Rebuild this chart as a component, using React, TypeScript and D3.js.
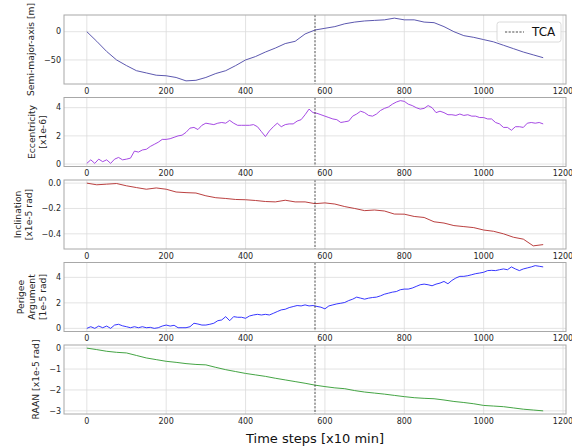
import React from 'react';
import * as d3 from 'd3';

// ---- data ----
const fineStep = 10;   // time-step spacing of the noisy series
const coarseStep = 25; // time-step spacing of the smooth series
const tcaStep = 575;

const semiMajorAxis = [
  0, -17, -35, -50, -60, -69, -73, -77, -78, -81,
  -87, -86, -81, -74, -69, -60, -50, -44, -36, -29,
  -21, -17, -4, 3, 6, 9, 14, 17, 19, 20,
  21, 24, 21, 21, 17, 16, 9, 0, -7, -10,
  -14, -18, -24, -30, -36, -41, -46,
];

const eccentricity = [
  0.05, 0.3, 0.05, 0.35, 0.17, 0.3, 0.05, 0.35, 0.47, 0.3,
  0.35, 0.42, 0.92, 0.85, 1.0, 1.05, 1.25, 1.4, 1.55, 1.75,
  1.75, 1.8, 1.9, 2.0, 2.05, 2.25, 2.55, 2.6, 2.45, 2.75,
  2.9, 2.85, 2.8, 2.9, 2.95, 2.9, 3.1, 2.9, 2.75, 2.75,
  2.75, 2.75, 2.8, 2.65, 2.3, 1.95, 2.35, 2.65, 2.9, 2.65,
  2.8, 2.85, 2.85, 3.05, 3.15, 3.5, 3.9, 3.65, 3.6, 3.5,
  3.4, 3.3, 3.2, 3.15, 2.95, 3.0, 3.05, 3.4, 3.55, 3.75,
  3.65, 3.45, 3.4, 3.55, 3.8, 3.95, 4.05, 4.25, 4.4, 4.5,
  4.45, 4.25, 4.15, 4.0, 3.9, 3.95, 4.15, 4.0, 3.65, 3.75,
  3.65, 3.5, 3.5, 3.45, 3.55, 3.45, 3.5, 3.4, 3.4, 3.3,
  3.3, 3.2, 3.2, 2.95, 2.85, 2.6, 2.6, 2.4, 2.65, 2.65,
  2.6, 2.9, 2.95, 2.9, 2.95, 2.85,
];

const inclination = [
  0, -0.013, -0.008, -0.003, -0.021, -0.035, -0.048, -0.038, -0.048, -0.07,
  -0.075, -0.078, -0.1, -0.115, -0.121, -0.129, -0.131, -0.137, -0.145, -0.148,
  -0.135, -0.148, -0.148, -0.162, -0.156, -0.165, -0.185, -0.2, -0.217, -0.212,
  -0.22, -0.244, -0.245, -0.263, -0.271, -0.305, -0.315, -0.335, -0.343, -0.351,
  -0.37, -0.38, -0.4, -0.427, -0.442, -0.495, -0.485,
];

const perigeeArgument = [
  0.0, 0.13, 0.0, 0.18, 0.05, 0.18, 0.0, 0.26, 0.32, 0.2,
  0.13, 0.05, 0.13, 0.05, 0.13, 0.05, 0.08, 0.0, 0.05, 0.18,
  0.26, 0.18, 0.24, 0.05, 0.05, 0.05, 0.13, 0.4, 0.34, 0.26,
  0.26, 0.32, 0.4, 0.6, 0.66, 0.92, 0.6, 0.92, 0.87, 0.87,
  0.79, 0.97, 1.05, 1.1, 1.05, 1.1, 1.05, 1.18, 1.32, 1.45,
  1.5, 1.63, 1.71, 1.79, 1.76, 1.84, 1.76, 1.79, 1.72, 1.66,
  1.53, 1.76, 1.84, 1.92, 1.97, 2.03, 2.18, 2.29, 2.45, 2.37,
  2.29, 2.37, 2.42, 2.45, 2.55, 2.68, 2.76, 2.84, 2.89, 3.03,
  3.08, 3.08, 3.16, 3.29, 3.42, 3.47, 3.42, 3.34, 3.47, 3.55,
  3.68, 3.5, 3.76, 3.95, 4.08, 4.08, 4.13, 4.21, 4.29, 4.34,
  4.4, 4.53, 4.55, 4.53, 4.6, 4.66, 4.6, 4.82, 4.66, 4.53,
  4.66, 4.74, 4.82, 4.92, 4.87, 4.82,
];

const raan = [
  0, -0.07, -0.15, -0.2, -0.23, -0.35, -0.47, -0.55, -0.63, -0.68,
  -0.74, -0.78, -0.8, -0.92, -1.03, -1.12, -1.21, -1.28, -1.35, -1.44,
  -1.52, -1.6, -1.68, -1.77, -1.84, -1.9, -1.94, -2.03, -2.1, -2.15,
  -2.2, -2.26, -2.32, -2.37, -2.4, -2.42, -2.48, -2.55, -2.6, -2.66,
  -2.74, -2.77, -2.8, -2.86, -2.92, -2.96, -3.0,
];

const xTicks = [0, 200, 400, 600, 800, 1000, 1200];
const semiTicks = [0, -50];
const eccTicks = [0, 2, 4];
const incTicks = [0, -0.2, -0.4];
const perTicks = [0, 2, 4];
const raanTicks = [0, -1, -2, -3];

const xLabel = 'Time steps [x10 min]';
const legendLabel = 'TCA';

// ---- layout / style ----
const W = 572;
const H = 447;
const left = 64;
const right = 566;
const firstTop = 15;
const panelH = 69;
const panelGap = 82.5;
const tickFont = 8;
const labelFont = 9.2;
const FONT = 'DejaVu Sans, sans-serif';
const TEXT = '#262626';

const minus = (s: string) => s.replace('-', '\u2212');

const charW: Record<string, number> = {
  '\u2212': 0.838, '.': 0.318,
};
const textWidth = (s: string, fs: number) =>
  s.split('').reduce((a, c) => a + (charW[c] ?? 0.636), 0) * fs;

type Panel = {
  values: number[];
  step: number;
  ticks: number[];
  fmt: (v: number) => string;
  label: string[];
  color: string;
};

const panels: Panel[] = [
  { values: semiMajorAxis, step: coarseStep, ticks: semiTicks, fmt: (v) => minus(d3.format('d')(v)), label: ['Semi-major-axis [m]'], color: '#4a45a6' },
  { values: eccentricity, step: fineStep, ticks: eccTicks, fmt: (v) => minus(d3.format('d')(v)), label: ['Eccentricity', '[x1e-6]'], color: '#9b35e0' },
  { values: inclination, step: coarseStep, ticks: incTicks, fmt: (v) => minus(d3.format('.1f')(v)), label: ['Inclination', '[x1e-5 rad]'], color: '#b22a2a' },
  { values: perigeeArgument, step: fineStep, ticks: perTicks, fmt: (v) => minus(d3.format('d')(v)), label: ['Perigee', 'Argument', '[1e-5 rad]'], color: '#2020ff' },
  { values: raan, step: coarseStep, ticks: raanTicks, fmt: (v) => minus(d3.format('d')(v)), label: ['RAAN [x1e-5 rad]'], color: '#2f9a2f' },
];

const xMax = d3.max(panels, (p) => (p.values.length - 1) * p.step) as number;
const xPad = xMax * 0.05;
const x = d3.scaleLinear().domain([-xPad, xMax + xPad]).range([left, right]);

function PanelView({ p, idx }: { p: Panel; idx: number }) {
  const top = firstTop + idx * panelGap;
  const bottom = top + panelH;
  const [lo, hi] = d3.extent(p.values) as [number, number];
  const pad = (hi - lo) * 0.05;
  const y = d3.scaleLinear().domain([lo - pad, hi + pad]).range([bottom, top]);
  const pts = p.values.map((v, i) => [i * p.step, v] as [number, number]);
  const line = d3.line<[number, number]>().x((d) => x(d[0])).y((d) => y(d[1]));
  const tickLabels = p.ticks.map(p.fmt);
  const maxTW = d3.max(tickLabels, (t) => textWidth(t, tickFont)) as number;
  const lastX = left - 3 - maxTW - 13;
  const cy = (top + bottom) / 2;
  const n = p.label.length;
  return (
    <g>
      <rect x={left} y={top} width={right - left} height={panelH} fill="#fff" />
      {xTicks.map((t) => (
        <line key={'gx' + t} x1={x(t)} x2={x(t)} y1={top} y2={bottom} stroke="#dcdcdc" strokeWidth={0.8} />
      ))}
      {p.ticks.map((t) => (
        <line key={'gy' + t} x1={left} x2={right} y1={y(t)} y2={y(t)} stroke="#dcdcdc" strokeWidth={0.8} />
      ))}
      <path d={line(pts) || ''} fill="none" stroke={p.color} strokeWidth={0.9} strokeLinejoin="round" />
      <line x1={x(tcaStep)} x2={x(tcaStep)} y1={top} y2={bottom} stroke="#222" strokeWidth={0.8} strokeDasharray="2.2,1.4" />
      <rect x={left} y={top} width={right - left} height={panelH} fill="none" stroke="#a8a8a8" strokeWidth={1} />
      {xTicks.map((t) => (
        <text key={'tx' + t} x={x(t)} y={bottom + 9.5} textAnchor="middle" fontSize={tickFont} fill={TEXT} fontFamily={FONT}>
          {String(t)}
        </text>
      ))}
      {p.ticks.map((t, i) => (
        <text key={'ty' + t} x={left - 3} y={y(t)} dy="0.35em" textAnchor="end" fontSize={tickFont} fill={TEXT} fontFamily={FONT}>
          {tickLabels[i]}
        </text>
      ))}
      {p.label.map((s, i) => {
        const lx = lastX - (n - 1 - i) * 11;
        return (
          <text key={'l' + i} x={lx} y={cy} transform={`rotate(-90 ${lx} ${cy})`} textAnchor="middle" dy="0.35em" fontSize={labelFont} fill={TEXT} fontFamily={FONT}>
            {s}
          </text>
        );
      })}
    </g>
  );
}

export default function App() {
  const lastBottom = firstTop + (panels.length - 1) * panelGap + panelH;
  return (
    <svg width={W} height={H} style={{ position: 'absolute', left: 0, top: 0, background: '#fff' }}>
      <rect x={0} y={0} width={W} height={H} fill="#fff" />
      {panels.map((p, i) => (
        <PanelView key={i} p={p} idx={i} />
      ))}
      <g>
        <rect x={497} y={22} width={64} height={20} rx={2.5} fill="#fff" fillOpacity={0.85} stroke="#d0d0d0" strokeWidth={0.8} />
        <line x1={505} x2={524} y1={32} y2={32} stroke="#222" strokeWidth={0.8} strokeDasharray="2.2,1.4" />
        <text x={532} y={32} dy="0.36em" fontSize={12} fill="#111" fontFamily={FONT}>
          {legendLabel}
        </text>
      </g>
      <text x={(left + right) / 2} y={lastBottom + 28.5} textAnchor="middle" fontSize={13} fill="#111" fontFamily={FONT}>
        {xLabel}
      </text>
    </svg>
  );
}
